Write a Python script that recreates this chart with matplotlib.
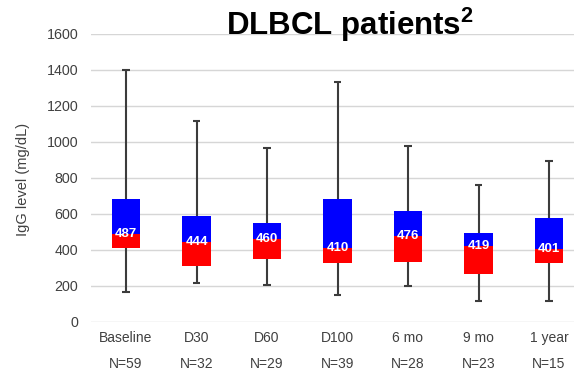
import matplotlib
matplotlib.use("Agg")
import matplotlib.pyplot as plt
import numpy as np

categories = ["Baseline", "D30", "D60", "D100", "6 mo", "9 mo", "1 year"]
n_labels = ["N=59", "N=32", "N=29", "N=39", "N=28", "N=23", "N=15"]
whisker_low = [162, 215, 201, 147, 197, 114, 114]
q1 = [407, 308, 345, 327, 332, 264, 323]
median = [487, 444, 460, 410, 476, 419, 401]
q3 = [679, 586, 545, 680, 614, 493, 573]
whisker_high = [1400, 1114, 962, 1332, 977, 760, 892]
yticks = [0, 200, 400, 600, 800, 1000, 1200, 1400, 1600]

plt.rcParams['font.family'] = ['Liberation Sans', 'DejaVu Sans']
plt.rcParams['mathtext.fontset'] = 'custom'
plt.rcParams['mathtext.bf'] = 'Liberation Sans:bold'
plt.rcParams['mathtext.rm'] = 'Liberation Sans'

W, H = 574, 372
fig = plt.figure(figsize=(W / 100, H / 100), dpi=100)
ax = fig.add_axes([90.75 / W, 1 - 321.5 / H, (W - 90.75) / W, 288 / H])

x = np.arange(len(categories))
ax.set_xlim(-0.5, (W - 126) / 70.5)
ax.set_ylim(0, 1600)

for y in yticks:
    ax.axhline(y, color='#d6d6d6', lw=1.0, zorder=0)

whisk_color = '#3c3c3c'
ax.vlines(x, whisker_low, whisker_high, color=whisk_color, lw=1.5, zorder=1)
cap_half = 0.05
ax.hlines(whisker_low, x - cap_half, x + cap_half, color=whisk_color, lw=1.5, zorder=1)
ax.hlines(whisker_high, x - cap_half, x + cap_half, color=whisk_color, lw=1.5, zorder=1)

q1a = np.array(q1); meda = np.array(median); q3a = np.array(q3)
bw = 0.4
ax.bar(x, meda - q1a, bottom=q1a, width=bw, color='#ff0000', zorder=2, linewidth=0)
ax.bar(x, q3a - meda, bottom=meda, width=bw, color='#0000ff', zorder=2, linewidth=0)

for xi, m in zip(x, median):
    ax.text(xi, m, str(m), color='white', fontsize=9.5, fontweight='bold',
            ha='center', va='center', zorder=3)

ax.set_yticks(yticks)
ax.set_yticklabels([str(v) for v in yticks], fontsize=10.3, color='#404040')
ax.tick_params(axis='y', length=0, pad=9)
ax.set_xticks([])
for s in ax.spines.values():
    s.set_visible(False)

trans = ax.get_xaxis_transform()
for xi, c, n in zip(x, categories, n_labels):
    ax.text(xi, -16.5 / 288, c, transform=trans, ha='center', va='center',
            fontsize=10, color='#404040')
    ax.text(xi, -42.5 / 288, n, transform=trans, ha='center', va='center',
            fontsize=10, color='#404040')

fig.text(23 / W, 1 - 179 / H, "IgG level (mg/dL)", rotation=90, ha='center',
         va='center', fontsize=10.5, color='#404040')

fig.text(350 / W, 1 - 35 / H, "DLBCL patients$^{\\mathbf{2}}$", ha='center',
         va='baseline', fontsize=22.5, fontweight='bold', color='black')

fig.savefig("out.png", dpi=100)
